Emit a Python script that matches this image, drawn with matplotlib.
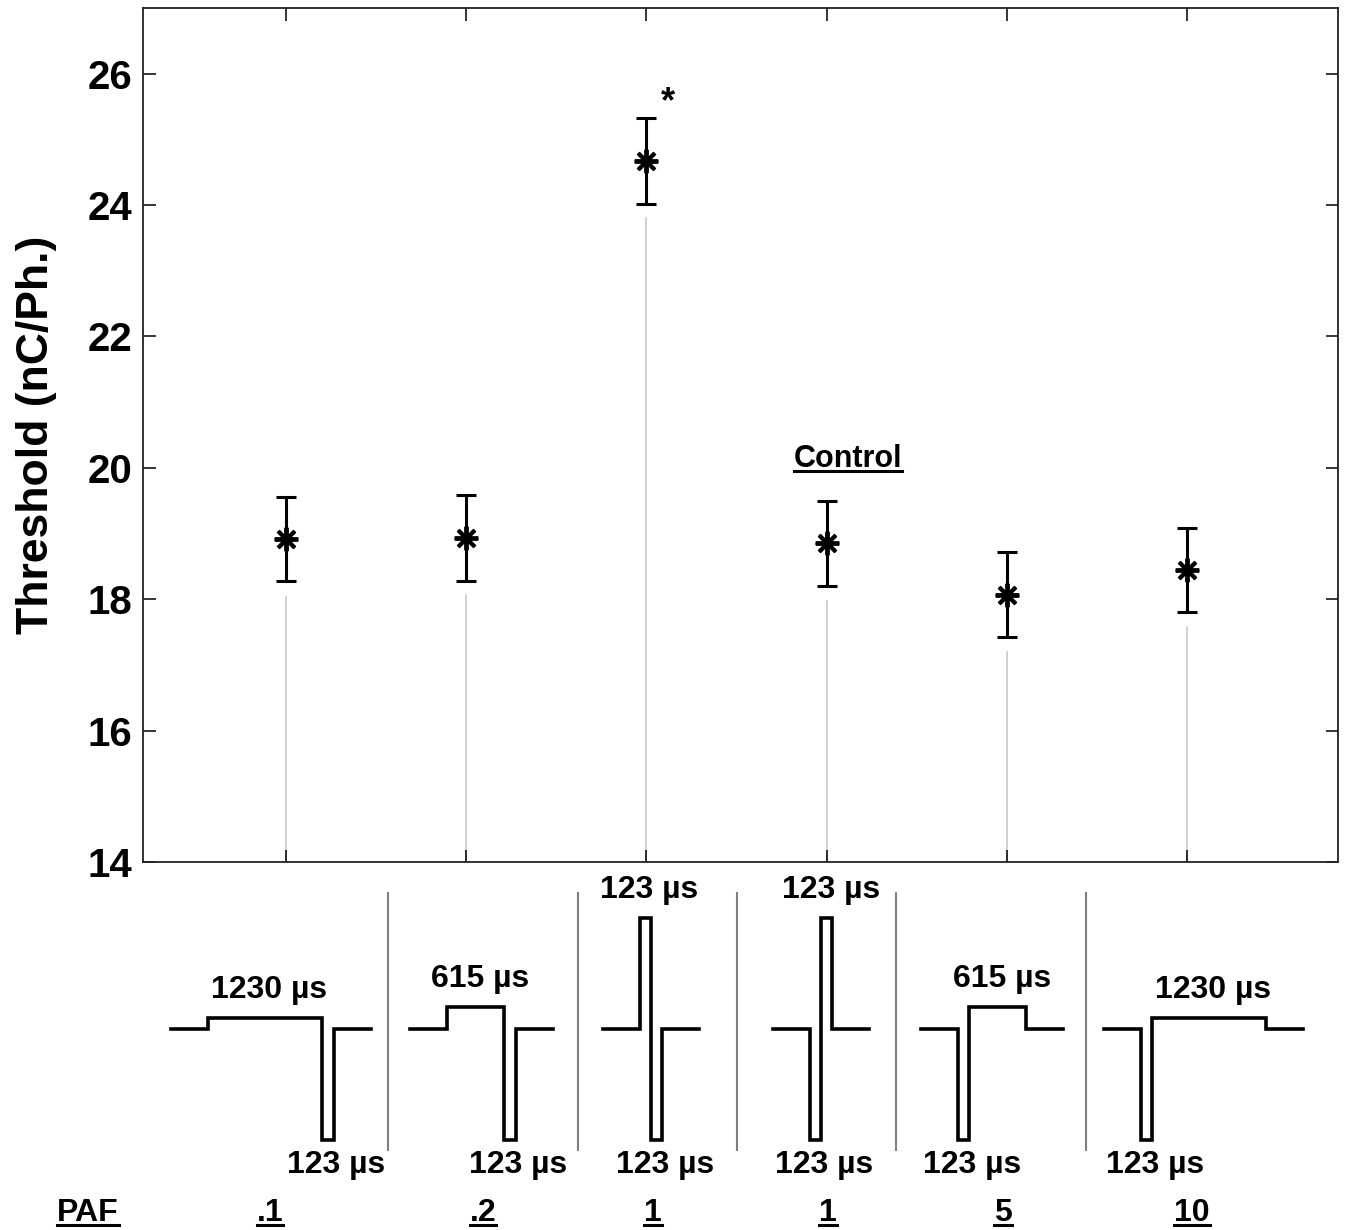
import matplotlib
matplotlib.use("Agg")
import matplotlib.pyplot as plt
from matplotlib.lines import Line2D
from matplotlib.transforms import IdentityTransform
from matplotlib import font_manager

plt.rcParams['font.family'] = ['Liberation Sans', 'DejaVu Sans']
plt.rcParams['font.weight'] = 'bold'

narrow_available = any('Narrow' in f.name for f in font_manager.fontManager.ttflist)
wave_family = ['Liberation Sans Narrow', 'Liberation Sans', 'DejaVu Sans'] if narrow_available \
    else ['Liberation Sans', 'DejaVu Sans']
wave_size = 23 if narrow_available else 20

# ---------------- data ----------------
positions = [1, 2, 3, 4, 5, 6]
means = [18.91, 18.93, 24.67, 18.85, 18.07, 18.45]
errors = [0.64, 0.65, 0.65, 0.65, 0.645, 0.64]
stem_gap = 0.87  # grey stems end this far below the mean
yticks = [14, 16, 18, 20, 22, 24, 26]
paf_labels = [".1", ".2", "1", "1", "5", "10"]
# waveform phases: durations (µs) and relative amplitudes
phase_durations = [[1230, 123], [615, 123], [123, 123], [123, 123], [123, 615], [123, 1230]]
phase_amps = [[0.1, -1], [0.2, -1], [1, -1], [-1, 1], [-1, 0.2], [-1, 0.1]]
baseline_us = 400

# ---------------- layout ----------------
W, H = 1347, 1230
fig = plt.figure(figsize=(W / 100, H / 100), dpi=100)
ax = fig.add_axes([143 / W, (H - 862) / H, 1195 / W, 854 / H])

for x, m in zip(positions, means):
    ax.plot([x, x], [14, m - stem_gap], color='#c8c8c8', lw=1.2, zorder=1)

ax.errorbar(positions, means, yerr=errors, fmt='none', ecolor='black',
            elinewidth=2.2, capsize=7, capthick=2.2, zorder=3)
ax.plot(positions, means, linestyle='none', marker=(8, 2, 0), markersize=17,
        mew=2.8, color='black', zorder=4)

ax.set_xlim(1 - 143 / 180, 6 + 151 / 180)
ax.set_ylim(14, 27)
ax.set_xticks(positions)
ax.set_xticklabels([])
ax.set_yticks(yticks)
ax.set_yticklabels([str(t) for t in yticks], fontsize=29, fontweight='bold')
ax.tick_params(direction='in', length=9, width=1.1, top=True, right=True, pad=8)
for s in ax.spines.values():
    s.set_linewidth(1.3)
    s.set_color('#222222')
ax.set_ylabel('Threshold (nC/Ph.)', fontsize=32, fontweight='bold', labelpad=22)

t_ctrl = ax.text(4.12, 20.02, 'Control', fontsize=22, fontweight='bold',
                 ha='center', va='baseline')
ax.text(3.12, 25.42, '*', fontsize=26, fontweight='bold', ha='center', va='baseline')

# ---------------- waveform panels ----------------
px_per_us = 0.0927
amp_px = 111.0
base_px = 1029
centers_px = [271, 481.5, 651, 821, 992, 1203.5]
ylo, yhi = -1.4, 1.4
for c, durs, amps in zip(centers_px, phase_durations, phase_amps):
    total = baseline_us * 2 + sum(durs)
    wpx = total * px_per_us
    hpx = (yhi - ylo) * amp_px
    left = c - wpx / 2
    bottom_px = base_px + (-ylo) * amp_px
    wax = fig.add_axes([left / W, (H - bottom_px) / H, wpx / W, hpx / H])
    wax.set_xlim(0, total)
    wax.set_ylim(ylo, yhi)
    wax.axis('off')
    xs, ys = [0, baseline_us], [0, 0]
    t = baseline_us
    for d, a in zip(durs, amps):
        xs += [t, t + d]
        ys += [a, a]
        t += d
    xs += [t, total]
    ys += [0, 0]
    wax.plot(xs, ys, color='black', lw=2.6, solid_joinstyle='miter', clip_on=False)
    # labels
    t = baseline_us
    for d, a in zip(durs, amps):
        mid = t + d / 2
        if a > 0:
            wax.annotate(f'{d} µs', (mid, a), xytext=(3, 20), textcoords='offset points',
                         ha='center', va='center', fontsize=wave_size, fontweight='bold',
                         family=wave_family, annotation_clip=False)
        else:
            wax.annotate(f'{d} µs', (mid, a), xytext=(6, -18), textcoords='offset points',
                         ha='center', va='center', fontsize=wave_size, fontweight='bold',
                         family=wave_family, annotation_clip=False)
        t += d

# separators
sep_px = [388, 578, 737, 896, 1086]
for sx in sep_px:
    fig.add_artist(Line2D([sx / W, sx / W], [(H - 893) / H, (H - 1150) / H],
                          transform=fig.transFigure, color='#808080', lw=1.5))

# PAF row
row_y = (H - 1221) / H
texts = [fig.text(88 / W, row_y, 'PAF', fontsize=23, fontweight='bold',
                  ha='center', va='baseline')]
label_px = [270, 483, 653, 828, 1003, 1192]
for lx, lab in zip(label_px, paf_labels):
    texts.append(fig.text(lx / W, row_y, lab, fontsize=23, fontweight='bold',
                          ha='center', va='baseline'))

fig.canvas.draw()
r = fig.canvas.get_renderer()
for t in texts + [t_ctrl]:
    bb = t.get_window_extent(r)
    bx, by = t.get_transform().transform(t.get_position())
    yline = by - 4
    fig.add_artist(Line2D([bb.x0, bb.x1], [yline, yline], transform=IdentityTransform(),
                          color='black', lw=2.2))

fig.savefig('out.png', dpi=100)
